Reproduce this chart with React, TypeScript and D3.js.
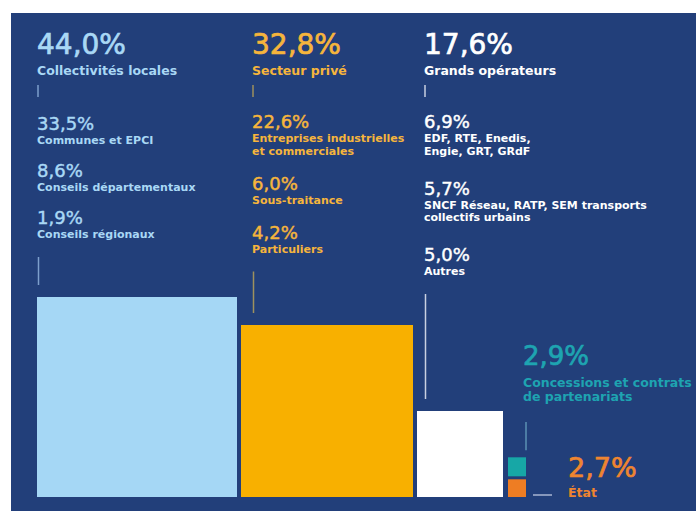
import React from 'react';
import * as d3 from 'd3';

// main groups
const groupLabels = ['Collectivités locales', 'Secteur privé', 'Grands opérateurs', 'Concessions et contrats\nde partenariats', 'État'];
const groupValues = [44.0, 32.8, 17.6, 2.9, 2.7];

// breakdowns
const localLabels = ['Communes et EPCI', 'Conseils départementaux', 'Conseils régionaux'];
const localValues = [33.5, 8.6, 1.9];
const privateLabels = ['Entreprises industrielles\net commerciales', 'Sous-traitance', 'Particuliers'];
const privateValues = [22.6, 6.0, 4.2];
const operatorLabels = ['EDF, RTE, Enedis,\nEngie, GRT, GRdF', 'SNCF Réseau, RATP, SEM transports\ncollectifs urbains', 'Autres'];
const operatorValues = [6.9, 5.7, 5.0];

const W = 696;
const H = 511;
const FONT = "'DejaVu Sans', sans-serif";
const BG = '#223f7a';
const fill = ['#a5d7f5', '#f8b000', '#ffffff', '#17a7a6', '#ee7d23'];
const textCol = ['#a9d8f5', '#f6b53c', '#ffffff', '#1ea4b1', '#ef8530'];
const tickCol = ['#7d9fcc', '#9e915e', '#c9d0e2', '#5b92b4', '#a9b6d3'];

const fr = d3.formatLocale({ decimal: ',', thousands: ' ', grouping: [3], currency: ['', ' €'] });
const pct = (v: number) => fr.format('.1f')(v) + '%';

// square side from value (the infographic isn't strictly proportional)
const side = d3.scaleLinear().domain([0, 2.9, 17.6, 32.8, 44]).range([0, 19, 86, 172, 200]);

const baseY = 497;
const x0 = 37;
const gap = 4;

// numbers are set in a medium weight, thicken the regular face a bit
const Num = ({ x, y, size, color, children }: any) => (
  <text x={x} y={y} fill={color} stroke={color} strokeWidth={size > 20 ? 0.7 : 0.45}
    fontFamily={FONT} fontSize={size}>{children}</text>
);

const Lines = ({ x, y, text, size, color, weight, lh }: any) => (
  <text x={x} y={y} fill={color} fontFamily={FONT} fontSize={size} fontWeight={weight}>
    {text.split('\n').map((t: string, i: number) => (
      <tspan key={i} x={x} dy={i === 0 ? 0 : lh}>{t}</tspan>
    ))}
  </text>
);

const Column = ({ x, color, tick, title, value, labels, values, startY, gapY, squareTop }: any) => {
  let y = startY;
  const items: any[] = [];
  labels.forEach((lab: string, i: number) => {
    const nLines = lab.split('\n').length;
    items.push(
      <g key={i}>
        <Num x={x} y={y} size={18} color={color}>{pct(values[i])}</Num>
        <Lines x={x} y={y + 14} text={lab} size={11} color={color} weight="bold" lh={12.5} />
      </g>
    );
    const last = y + 14 + (nLines - 1) * 12.5;
    y = i < labels.length - 1 ? last + gapY : last;
  });
  return (
    <g>
      <Num x={x} y={54} size={28} color={color}>{pct(value)}</Num>
      <text x={x} y={75} fill={color} fontFamily={FONT} fontSize={12.5} fontWeight="bold">{title}</text>
      <line x1={x + 1} x2={x + 1} y1={85} y2={97} stroke={tick} strokeWidth={1.5} />
      {items}
      <line x1={x + 1.5} x2={x + 1.5} y1={y + 19} y2={squareTop - 12} stroke={tick} strokeWidth={1.5} />
    </g>
  );
};

export default function App() {
  // lay out the three big squares side by side
  const xs: number[] = [];
  let cx = x0;
  for (let i = 0; i < 3; i++) {
    xs.push(cx);
    cx += side(groupValues[i]) + gap;
  }
  const smallX = cx + 1;
  const sEtat = side(groupValues[4]);
  const sConc = side(groupValues[3]);
  const etatTop = baseY - sEtat;
  const concTop = etatTop - 3 - sConc;

  return (
    <div style={{ position: 'absolute', left: 0, top: 0 }}>
      <svg width={W} height={H} style={{ display: 'block' }}>
        <rect x={0} y={0} width={W} height={H} fill="#ffffff" />
        <rect x={11} y={13} width={W - 11} height={H - 13} fill={BG} />

        {[0, 1, 2].map((i) => (
          <rect key={i} x={xs[i]} y={baseY - side(groupValues[i])} width={side(groupValues[i])}
            height={side(groupValues[i])} fill={fill[i]} />
        ))}
        <rect x={smallX} y={concTop} width={sConc - 1} height={sConc} fill={fill[3]} />
        <rect x={smallX} y={etatTop} width={sConc - 1} height={sEtat} fill={fill[4]} />

        <Column x={37} color={textCol[0]} tick={tickCol[0]} title={groupLabels[0]} value={groupValues[0]}
          labels={localLabels} values={localValues} startY={130} gapY={33} squareTop={baseY - side(groupValues[0])} />
        <Column x={252} color={textCol[1]} tick={tickCol[1]} title={groupLabels[1]} value={groupValues[1]}
          labels={privateLabels} values={privateValues} startY={128} gapY={35} squareTop={baseY - side(groupValues[1])} />
        <Column x={424} color={textCol[2]} tick={tickCol[2]} title={groupLabels[2]} value={groupValues[2]}
          labels={operatorLabels} values={operatorValues} startY={128} gapY={40} squareTop={baseY - side(groupValues[2])} />

        {/* concessions */}
        <Num x={523} y={365} size={26} color={textCol[3]}>{pct(groupValues[3])}</Num>
        <Lines x={523} y={387} text={groupLabels[3]} size={12.5} color={textCol[3]} weight="bold" lh={14} />
        <line x1={526} x2={526} y1={422} y2={concTop - 7} stroke={tickCol[3]} strokeWidth={1.5} />

        {/* état */}
        <Num x={568} y={477} size={27} color={textCol[4]}>{pct(groupValues[4])}</Num>
        <text x={568} y={497} fill={textCol[4]} fontFamily={FONT} fontSize={12.5} fontWeight="bold">{groupLabels[4]}</text>
        <line x1={533} x2={552} y1={495} y2={495} stroke={tickCol[4]} strokeWidth={1.5} />
      </svg>
    </div>
  );
}
